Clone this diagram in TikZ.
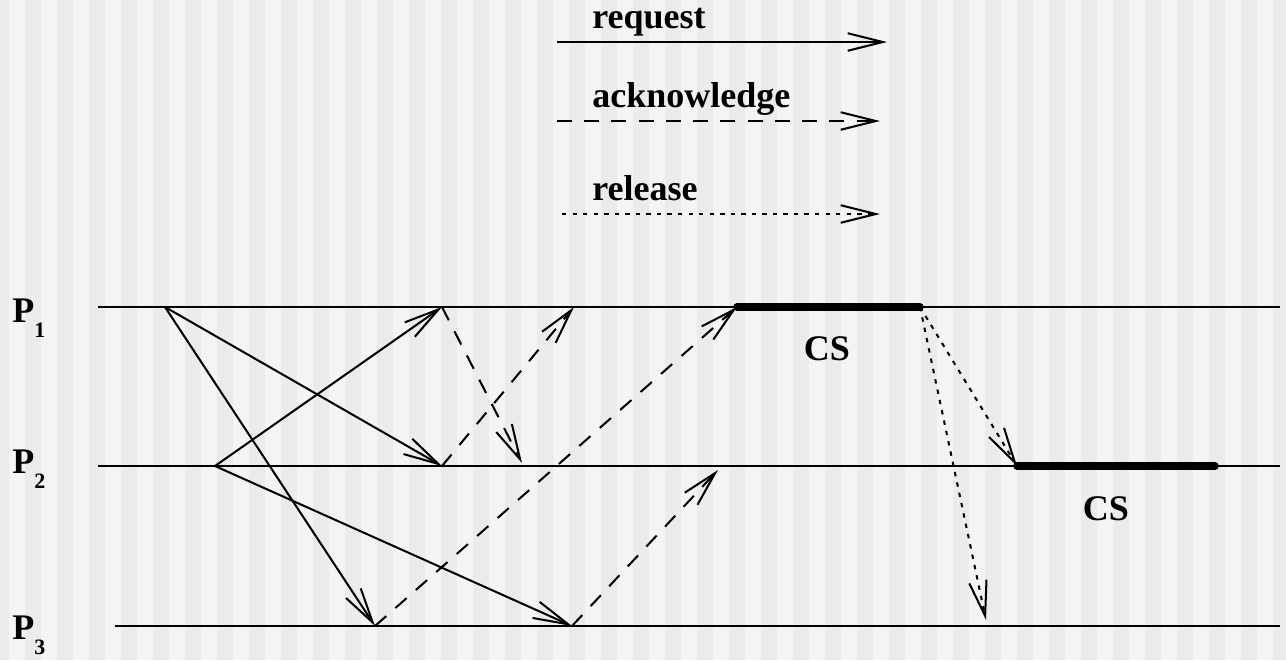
\documentclass[tikz,border=0pt]{standalone}
\usepackage{fontspec}
\setmainfont{Liberation Serif}
\usetikzlibrary{arrows.meta}
\definecolor{stripelight}{HTML}{F4F4F4}
\definecolor{stripedark}{HTML}{EBEBEB}
\newcommand{\proc}[1]{P\raisebox{-0.3cm}{\fontsize{12.5}{14}\selectfont #1}}

\begin{document}
\begin{tikzpicture}[x=0.02cm, y=-0.02cm,
    every node/.style={font=\fontsize{20.5}{24}\selectfont\bfseries, inner sep=0pt},
    msg/.style={line width=1.15pt, -{Straight Barb[length=20pt, width=10pt]}},
    request/.style={msg},
    ack/.style={msg, dash pattern=on 8.5pt off 7pt},
    release/.style={msg, dash pattern=on 2.5pt off 3.5pt},
    csbar/.style={line width=4.3pt, line cap=round}]
  % Hintergrund (Streifen)
  \useasboundingbox (0,0) rectangle (1286,660);
  \begin{scope}
    \clip (0,0) rectangle (1286,660);
    \fill[stripelight] (0,0) rectangle (1286,660);
    \foreach \i in {0,...,40}
      \fill[stripedark] ({32*\i-7},0) rectangle ({32*\i+9},660);
  \end{scope}
  % Legende
  \foreach \sty/\txt/\ytxt/\yline/\xa/\xb in {
    request/request/28/42/557/887,
    ack/acknowledge/107/121/557/880,
    release/release/200/214/562/880
  }
  {
    \node[anchor=base west] (\sty txt) at (592,\ytxt) {\txt};
    \coordinate (\sty a) at (\xa,\yline);
    \coordinate (\sty b) at (\xb,\yline);
    \draw[\sty] (\sty a) -- (\sty b);
  }
  % Prozesslinien
  \foreach \p/\y/\ylab/\xa in {1/307/322/98, 2/466/473/98, 3/626/639/115}
  {
    \coordinate (p\p a) at (\xa,\y);
    \coordinate (p\p b) at (1280,\y);
    \draw[line width=1.15pt] (p\p a) -- (p\p b);
    \node[anchor=base west] (lab\p) at (12,\ylab) {\proc{\p}};
  }
  % Ereignisse
  \coordinate (r1) at (165,307);
  \coordinate (r2) at (215,466);
  \coordinate (a1) at (442,307);
  \coordinate (a2) at (442,466);
  \coordinate (a3) at (375,626);
  \coordinate (a4) at (572,626);
  \coordinate (k12) at (522,463);
  \coordinate (k21) at (574,307);
  \coordinate (k32) at (718,470);
  \coordinate (cs1a) at (737,307);
  \coordinate (cs1b) at (920,307);
  \coordinate (cs2a) at (1017,466);
  \coordinate (cs2b) at (1215,466);
  \coordinate (rel3) at (986,620);
  % Anforderungen
  \draw[request] (r1) -- (a2);
  \draw[request] (r1) -- (a3);
  \draw[request] (r2) -- (a1);
  \draw[request] (r2) -- (a4);
  % Bestaetigungen
  \draw[ack] (a1) -- (k12);
  \draw[ack] (a2) -- (k21);
  \draw[ack] (a3) -- (cs1a);
  \draw[ack] (a4) -- (k32);
  % Freigaben
  \draw[release] (cs1b) -- (cs2a);
  \draw[release] (cs1b) -- (rel3);
  % kritische Abschnitte
  \draw[csbar] (cs1a) -- (cs1b);
  \draw[csbar] (cs2a) -- (cs2b);
  \node[anchor=base] (cs1) at (827,360) {CS};
  \node[anchor=base] (cs2) at (1106,520) {CS};
\end{tikzpicture}
\end{document}
